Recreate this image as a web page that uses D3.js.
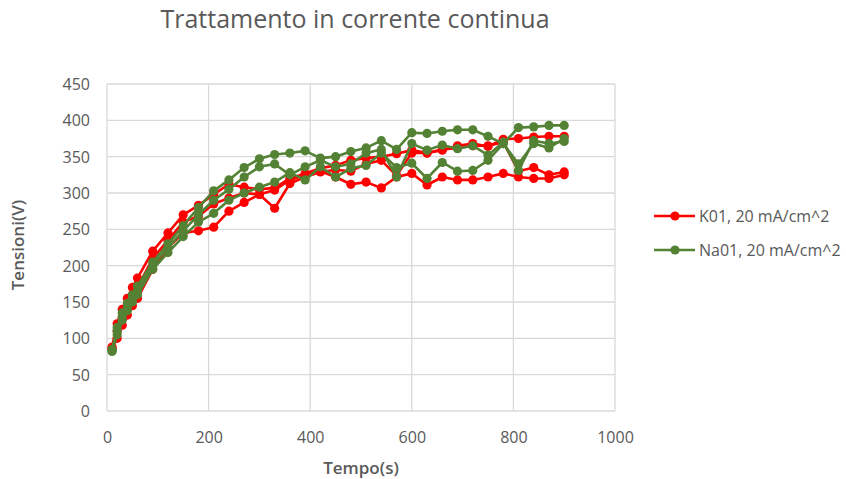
<!DOCTYPE html>
<html>
<head>
<meta charset="utf-8">
<script src="https://cdn.jsdelivr.net/npm/d3@7"></script>
<style>
  html, body { margin: 0; padding: 0; background: #fff; }
  svg { display: block; font-family: "Open Sans", "Noto Sans", sans-serif; }
</style>
</head>
<body>
<svg id="chart" width="846" height="479"></svg>
<script>
// ---- data ----
const times = [10, 20, 30, 40, 50, 60, 90, 120, 150, 180, 210, 240, 270, 300, 330, 360, 390, 420, 450, 480, 510, 540, 570, 600, 630, 660, 690, 720, 750, 780, 810, 840, 870, 900];

const k01_run1 = [88, 120, 140, 155, 170, 183, 220, 245, 270, 283, 298, 312, 308, 305, 307, 320, 327, 334, 338, 345, 348, 350, 354, 359, 355, 359, 365, 368, 364, 374, 375, 377, 378, 378];
const k01_run2 = [85, 110, 128, 145, 158, 170, 210, 235, 260, 268, 285, 293, 300, 298, 279, 313, 322, 329, 332, 330, 340, 345, 324, 355, 355, 360, 362, 365, 365, 370, 330, 335, 325, 329];
const k01_run3 = [86, 100, 118, 132, 145, 155, 195, 225, 245, 248, 253, 275, 287, 298, 304, 318, 325, 330, 322, 312, 315, 307, 322, 327, 311, 322, 318, 318, 322, 327, 322, 320, 320, 325];

const na01_run1 = [85, 115, 135, 148, 160, 172, 205, 230, 255, 280, 303, 318, 335, 347, 353, 355, 358, 348, 350, 357, 362, 372, 360, 383, 382, 385, 387, 387, 378, 368, 390, 391, 393, 393];
const na01_run2 = [83, 110, 130, 142, 155, 165, 200, 225, 248, 270, 290, 305, 322, 336, 340, 325, 336, 345, 336, 340, 355, 360, 322, 368, 359, 366, 361, 365, 352, 370, 331, 372, 368, 371];
const na01_run3 = [82, 105, 125, 138, 150, 160, 195, 218, 240, 260, 272, 290, 300, 308, 315, 328, 318, 336, 322, 334, 338, 355, 335, 341, 320, 342, 330, 331, 345, 368, 340, 368, 362, 375];

const xTicks = [0, 200, 400, 600, 800, 1000];
const yTicks = [0, 50, 100, 150, 200, 250, 300, 350, 400, 450];

const seriesNames = ["K01, 20 mA/cm^2", "Na01, 20 mA/cm^2"];
const seriesColors = ["#FF0000", "#548235"];

const titleText = "Trattamento in corrente continua";
const xTitle = "Tempo(s)";
const yTitle = "Tensioni(V)";

// ---- build ----
const groups = [
  { name: seriesNames[0], color: seriesColors[0], runs: [k01_run1, k01_run2, k01_run3] },
  { name: seriesNames[1], color: seriesColors[1], runs: [na01_run1, na01_run2, na01_run3] }
];

const svg = d3.select("#chart");
const textColor = "#595959";
const gridColor = "#D9D9D9";

const plot = { left: 107, right: 615, top: 84, bottom: 411 };
const x = d3.scaleLinear().domain([0, 1000]).range([plot.left, plot.right]);
const y = d3.scaleLinear().domain([0, 450]).range([plot.bottom, plot.top]);

// gridlines
svg.append("g").selectAll("line.h").data(yTicks).join("line")
  .attr("x1", plot.left).attr("x2", plot.right)
  .attr("y1", d => y(d)).attr("y2", d => y(d))
  .attr("stroke", gridColor).attr("stroke-width", 1.3);
svg.append("g").selectAll("line.v").data(xTicks).join("line")
  .attr("y1", plot.top).attr("y2", plot.bottom)
  .attr("x1", d => x(d)).attr("x2", d => x(d))
  .attr("stroke", gridColor).attr("stroke-width", 1.3);

// axes (labels only)
const xAxis = d3.axisBottom(x).tickValues(xTicks).tickFormat(d3.format("d")).tickSize(0).tickPadding(0);
const gx = svg.append("g").attr("transform", `translate(0,${plot.bottom})`).call(xAxis);
gx.select(".domain").remove();
gx.selectAll("text").attr("fill", textColor).attr("font-size", 16)
  .attr("font-family", "'Open Sans', sans-serif").attr("dy", null).attr("y", 32);

const yAxis = d3.axisLeft(y).tickValues(yTicks).tickFormat(d3.format("d")).tickSize(0).tickPadding(0);
const gy = svg.append("g").attr("transform", `translate(${plot.left},0)`).call(yAxis);
gy.select(".domain").remove();
gy.selectAll("text").attr("fill", textColor).attr("font-size", 16)
  .attr("font-family", "'Open Sans', sans-serif").attr("x", -17).attr("dy", "0.35em");

// series
const line = d3.line().x((d, i) => x(times[i])).y(d => y(d));
groups.forEach(g => {
  g.runs.forEach(run => {
    const gg = svg.append("g");
    gg.append("path").datum(run).attr("d", line)
      .attr("fill", "none").attr("stroke", g.color).attr("stroke-width", 2.6)
      .attr("stroke-linejoin", "round");
    gg.selectAll("circle").data(run).join("circle")
      .attr("cx", (d, i) => x(times[i])).attr("cy", d => y(d))
      .attr("r", 4.6).attr("fill", g.color);
  });
});

// title
svg.append("text").attr("x", 355).attr("y", 28).attr("text-anchor", "middle")
  .attr("font-size", 25).attr("fill", textColor).text(titleText);

// axis titles
svg.append("text").attr("x", 361).attr("y", 474).attr("text-anchor", "middle")
  .attr("font-size", 17).attr("font-weight", 600).attr("fill", textColor).text(xTitle);
svg.append("text").attr("transform", "translate(24,245) rotate(-90)")
  .attr("text-anchor", "middle").attr("font-size", 17).attr("font-weight", 600)
  .attr("fill", textColor).text(yTitle);

// legend
const leg = svg.append("g");
groups.forEach((g, i) => {
  const ly = 216 + i * 34;
  leg.append("line").attr("x1", 654).attr("x2", 695).attr("y1", ly).attr("y2", ly)
    .attr("stroke", g.color).attr("stroke-width", 2.6);
  leg.append("circle").attr("cx", 675).attr("cy", ly).attr("r", 4.6).attr("fill", g.color);
  leg.append("text").attr("x", 699).attr("y", ly).attr("dy", "0.35em")
    .attr("font-size", 16).attr("fill", textColor).text(g.name);
});
</script>
</body>
</html>
